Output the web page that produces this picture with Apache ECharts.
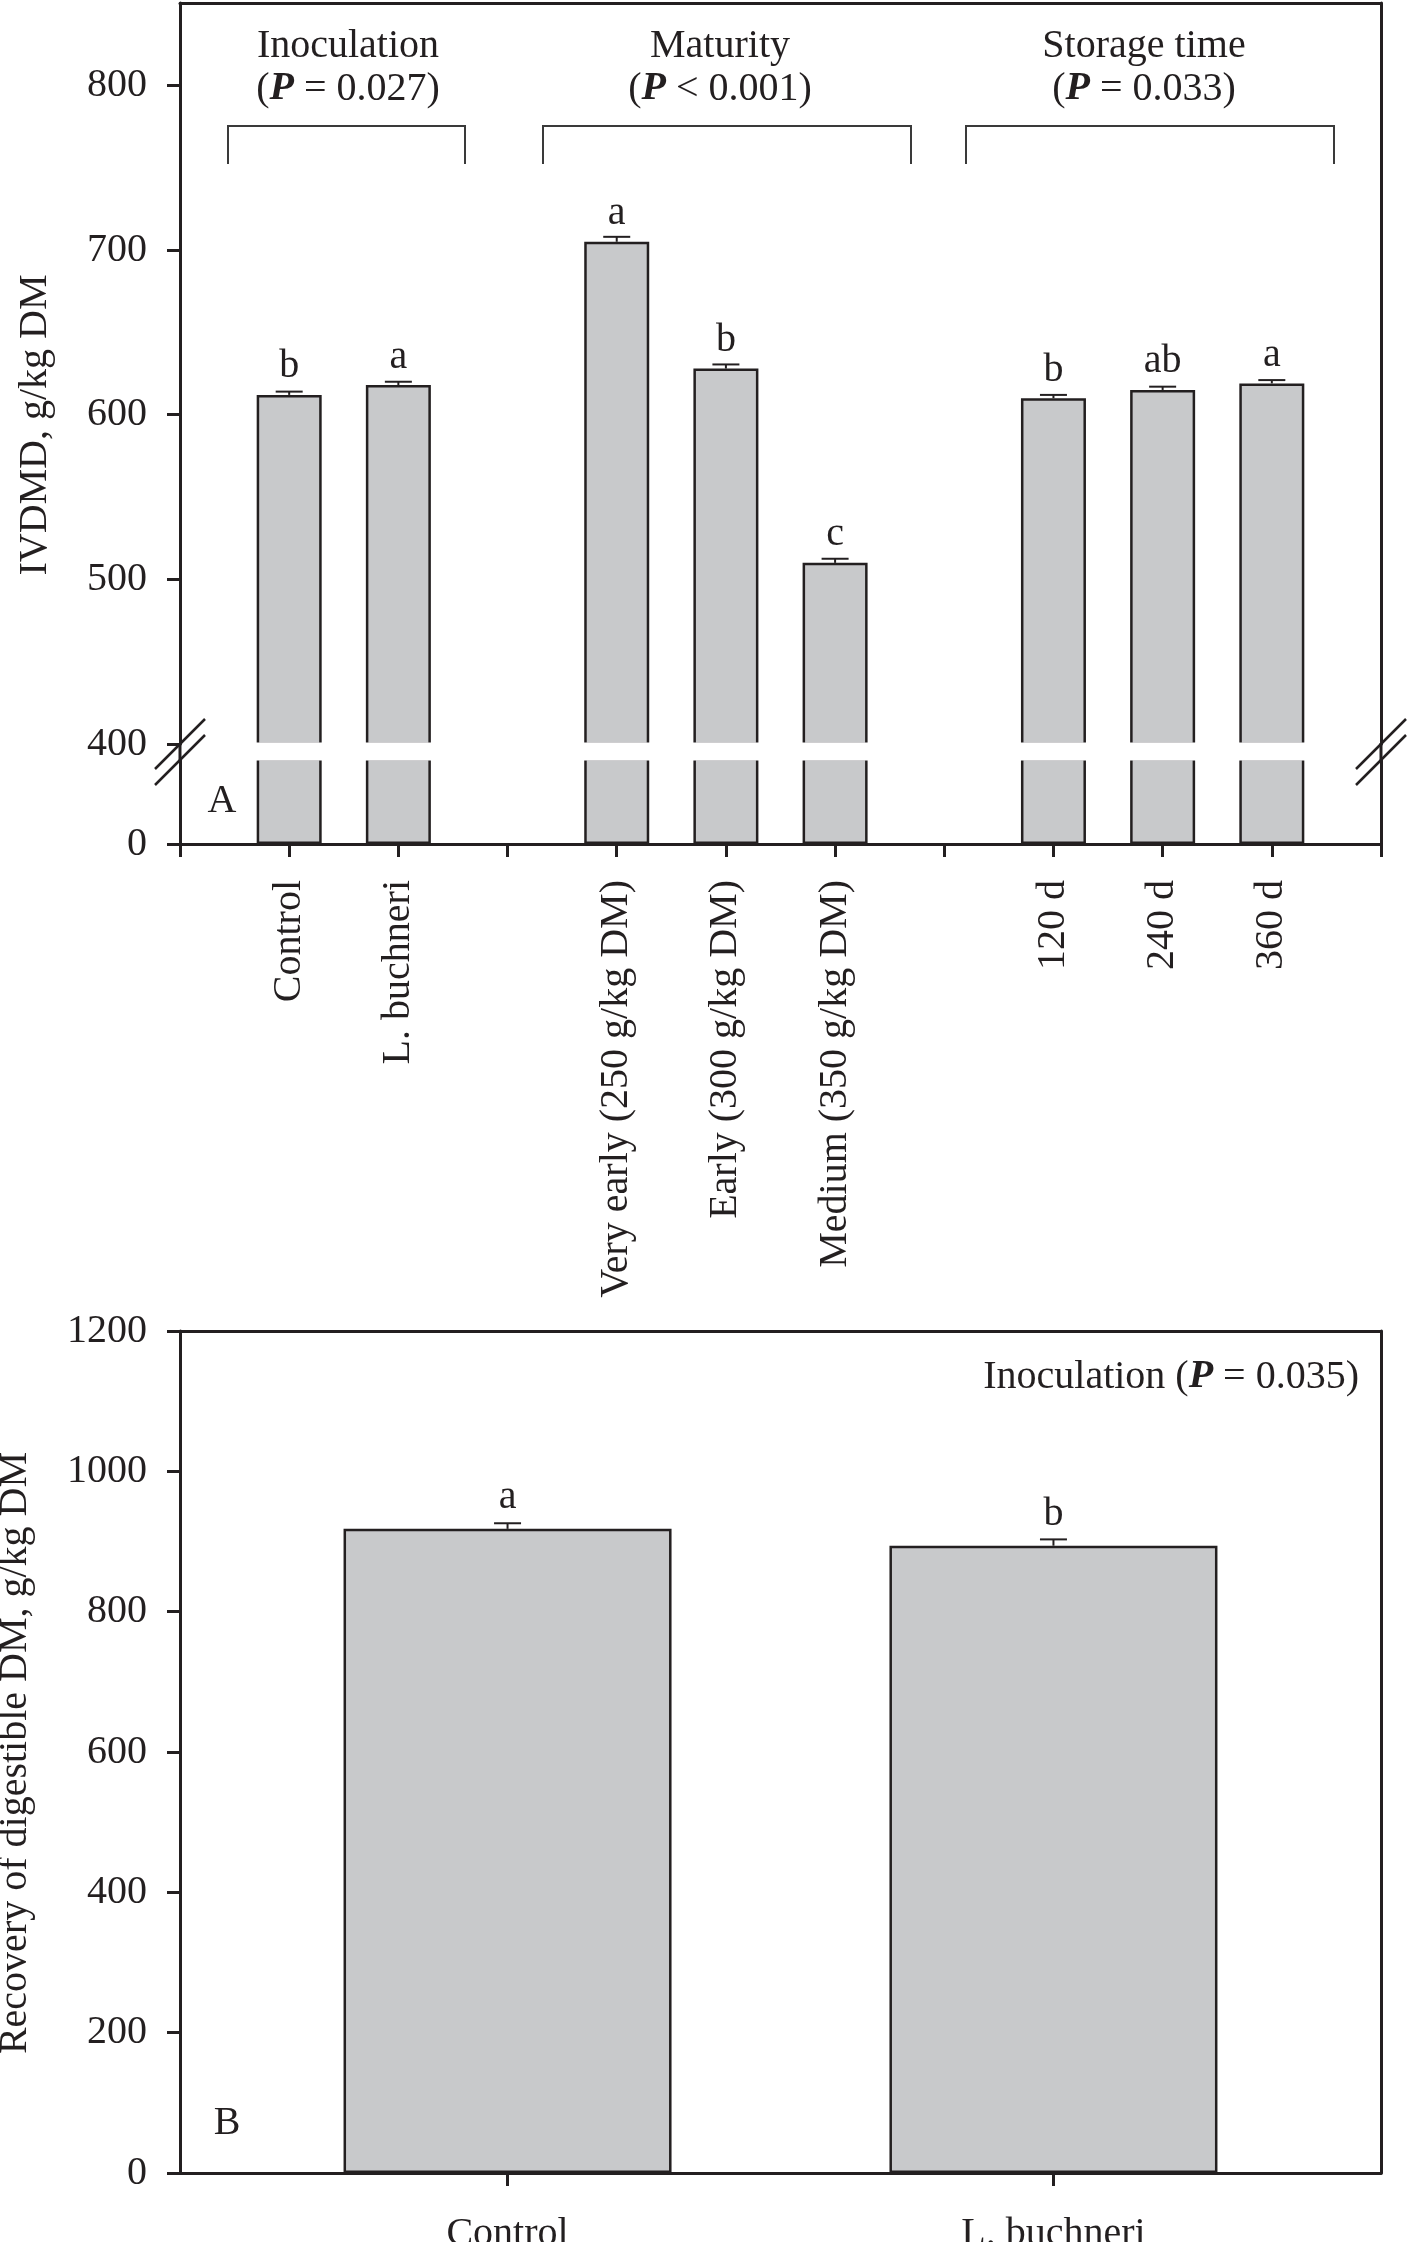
<!DOCTYPE html>
<html>
<head>
<meta charset="utf-8">
<title>IVDMD and recovery of digestible DM</title>
<script src="https://cdn.jsdelivr.net/npm/echarts@6/dist/echarts.min.js"></script>
<style>
  html, body { margin: 0; padding: 0; background: #fff; }
  #chart { width: 1408px; height: 2242px; }
</style>
</head>
<body>
<div id="chart"></div>
<script>
// Panel A: IVDMD, g/kg DM by factor
const inoculationCats = ['Control', 'L. buchneri'];
const maturityCats = ['Very early (250 g/kg DM)', 'Early (300 g/kg DM)', 'Medium (350 g/kg DM)'];
const storageCats = ['120 d', '240 d', '360 d'];
const ivdmdValues = [612, 618, 705, 628, 510, 610, 615, 619];
const ivdmdErrors = [2, 2, 3, 2.5, 2.5, 2, 2, 2];
const ivdmdLetters = ['b', 'a', 'a', 'b', 'c', 'b', 'ab', 'a'];
const ivdmdTicks = [400, 500, 600, 700, 800];

// Panel B: recovery of digestible DM
const recoveryCats = ['Control', 'L. buchneri'];
const recoveryValues = [918, 894];
const recoveryErrors = [8, 9];
const recoveryLetters = ['a', 'b'];
const recoveryTicks = [0, 200, 400, 600, 800, 1000, 1200];

const FONT = 'Liberation Serif';
const INK = '#231f20';
const BAR_FILL = '#c8c9cb';

// slots on the A axis: empty strings are the spacers between groups
const axisCats = ['', ...inoculationCats, '', ...maturityCats, '', ...storageCats, ''];
const barSlots = [];
axisCats.forEach((c, i) => { if (c) barSlots.push(i); });
const ivdmdBars = axisCats.map(() => '-');
barSlots.forEach((slot, k) => { ivdmdBars[slot] = ivdmdValues[k]; });
const ivdmdErrData = barSlots.map((slot, k) => [slot, ivdmdValues[k], ivdmdErrors[k]]);
const recoveryBars = recoveryValues.map((v, i) => [i, v]);
const recoveryErrData = recoveryValues.map((v, i) => [i, v, recoveryErrors[i]]);

// layout
const plotLeft = 180;
const plotWidth = 1201;
const plotRight = plotLeft + plotWidth;
const aTop = 3;
const aUpperH = 741;
const aGap = 15;
const aLowerH = 85;
const aBreakY = aTop + aUpperH;
const bTop = 1331;
const bH = 842;

const axisLine = { show: true, onZero: false, lineStyle: { color: INK, width: 3 } };
const tick = { show: true, length: 13, lineStyle: { color: INK, width: 3 } };
const label = { fontFamily: FONT, fontSize: 40, color: INK };
const txt = { fontFamily: FONT, fontSize: 40, fill: INK };
const pRich = { p: { fontFamily: FONT, fontSize: 40, fontWeight: 'bold', fontStyle: 'italic', fill: INK, color: INK } };

const borderAxis = (extra) => Object.assign({
  type: 'value', min: 0, max: 1,
  axisLine: axisLine, axisTick: { show: false }, axisLabel: { show: false }, splitLine: { show: false }
}, extra);

const errorRender = (params, api) => {
  const x = api.value(0);
  const v = api.value(1);
  const e = api.value(2);
  const p0 = api.coord([x, v]);
  const p1 = api.coord([x, v + e]);
  const hw = 13.5;
  const st = { stroke: INK, lineWidth: 2 };
  return {
    type: 'group',
    children: [
      { type: 'line', shape: { x1: p0[0], y1: p0[1], x2: p1[0], y2: p1[1] }, style: st },
      { type: 'line', shape: { x1: p1[0] - hw, y1: p1[1], x2: p1[0] + hw, y2: p1[1] }, style: st }
    ]
  };
};

const bracket = (x1, x2) => ({
  type: 'polyline', z: 100,
  shape: { points: [[x1, 164], [x1, 126], [x2, 126], [x2, 164]] },
  style: { stroke: '#3a3a3a', lineWidth: 2, fill: null }
});
const header = (x, title, p) => [
  { type: 'text', z: 100, x: x, y: 46, style: Object.assign({ text: title, align: 'center', verticalAlign: 'middle' }, txt) },
  { type: 'text', z: 100, x: x, y: 89, style: Object.assign({ text: '({p|P} ' + p + ')', align: 'center', verticalAlign: 'middle', rich: pRich }, txt) }
];
const breakMarks = (cx) => [
  { type: 'line', z: 101, shape: { x1: cx - 25, y1: aBreakY + 25, x2: cx + 25, y2: aBreakY - 25 }, style: { stroke: INK, lineWidth: 2.5 } },
  { type: 'line', z: 101, shape: { x1: cx - 25, y1: aBreakY + 41, x2: cx + 25, y2: aBreakY - 9 }, style: { stroke: INK, lineWidth: 2.5 } }
];

const chart = echarts.init(document.getElementById('chart'));

chart.setOption({
  animation: false,
  backgroundColor: '#fff',
  grid: [
    { left: plotLeft, top: aTop, width: plotWidth, height: aUpperH, outerBoundsMode: 'none' },
    { left: plotLeft, top: aBreakY + aGap, width: plotWidth, height: aLowerH, outerBoundsMode: 'none' },
    { left: plotLeft, top: bTop, width: plotWidth, height: bH, outerBoundsMode: 'none' }
  ],
  xAxis: [
    { gridIndex: 0, type: 'category', data: axisCats, boundaryGap: false, show: false },
    borderAxis({ gridIndex: 0, position: 'top' }),
    {
      gridIndex: 1, type: 'category', data: axisCats, boundaryGap: false,
      axisLine: axisLine,
      axisTick: Object.assign({ interval: 0 }, tick),
      axisLabel: Object.assign({ interval: 0, rotate: 90, margin: 36 }, label),
      splitLine: { show: false }
    },
    {
      gridIndex: 2, type: 'value', min: -0.6, max: 1.6,
      axisLine: axisLine,
      axisTick: Object.assign({ customValues: [0, 1] }, tick),
      axisLabel: Object.assign({ customValues: [0, 1], margin: 41, formatter: v => recoveryCats[Math.round(v)] }, label),
      splitLine: { show: false }
    },
    borderAxis({ gridIndex: 2, position: 'top' })
  ],
  yAxis: [
    {
      gridIndex: 0, type: 'value', min: 400, max: 850,
      axisLine: axisLine,
      axisTick: Object.assign({ customValues: ivdmdTicks }, tick),
      axisLabel: Object.assign({ customValues: ivdmdTicks, margin: 33 }, label),
      splitLine: { show: false }
    },
    borderAxis({ gridIndex: 0, position: 'right' }),
    {
      gridIndex: 1, type: 'value', min: 0, max: 100,
      axisLine: axisLine,
      axisTick: Object.assign({ customValues: [0] }, tick),
      axisLabel: Object.assign({ customValues: [0], margin: 33 }, label),
      splitLine: { show: false }
    },
    borderAxis({ gridIndex: 1, position: 'right' }),
    {
      gridIndex: 2, type: 'value', min: 0, max: 1200,
      axisLine: axisLine,
      axisTick: Object.assign({ customValues: recoveryTicks }, tick),
      axisLabel: Object.assign({ customValues: recoveryTicks, margin: 33, formatter: v => String(v) }, label),
      splitLine: { show: false }
    },
    borderAxis({ gridIndex: 2, position: 'right' })
  ],
  series: [
    {
      type: 'bar', xAxisIndex: 0, yAxisIndex: 0, data: ivdmdBars, barWidth: 65, clip: true,
      itemStyle: { color: BAR_FILL, borderColor: INK, borderWidth: 2.5 },
      label: Object.assign({
        show: true, position: 'top', distance: 8,
        formatter: p => ivdmdLetters[barSlots.indexOf(p.dataIndex)]
      }, label)
    },
    {
      type: 'bar', xAxisIndex: 2, yAxisIndex: 2, data: ivdmdBars, barWidth: 65, clip: true,
      itemStyle: { color: BAR_FILL, borderColor: INK, borderWidth: 2.5 }
    },
    {
      type: 'custom', xAxisIndex: 0, yAxisIndex: 0, data: ivdmdErrData, z: 3,
      renderItem: errorRender
    },
    {
      type: 'bar', xAxisIndex: 3, yAxisIndex: 4, data: recoveryBars, barWidth: 328,
      itemStyle: { color: BAR_FILL, borderColor: INK, borderWidth: 2.5 },
      label: Object.assign({
        show: true, position: 'top', distance: 11,
        formatter: p => recoveryLetters[p.dataIndex]
      }, label)
    },
    {
      type: 'custom', xAxisIndex: 3, yAxisIndex: 4, data: recoveryErrData, z: 3,
      renderItem: errorRender
    }
  ],
  graphic: [
    // axis break: white band through the bars, axis lines bridged, // marks
    { type: 'rect', z: 99, shape: { x: plotLeft + 2, y: aBreakY - 1.5, width: plotWidth - 4, height: aGap + 3 }, style: { fill: '#fff' } },
    { type: 'line', z: 100, shape: { x1: plotLeft, y1: aBreakY - 1, x2: plotLeft, y2: aBreakY + aGap + 1 }, style: { stroke: INK, lineWidth: 3 } },
    { type: 'line', z: 100, shape: { x1: plotRight, y1: aBreakY - 1, x2: plotRight, y2: aBreakY + aGap + 1 }, style: { stroke: INK, lineWidth: 3 } },
    ...breakMarks(plotLeft),
    ...breakMarks(plotRight),
    // group brackets and headers
    bracket(228, 465),
    bracket(543, 911),
    bracket(966, 1334),
    ...header(348, 'Inoculation', '= 0.027'),
    ...header(720, 'Maturity', '< 0.001'),
    ...header(1144, 'Storage time', '= 0.033'),
    { type: 'text', z: 100, x: 222, y: 801, style: Object.assign({ text: 'A', align: 'center', verticalAlign: 'middle' }, txt) },
    { type: 'text', z: 100, x: 35, y: 425, rotation: Math.PI / 2, style: Object.assign({ text: 'IVDMD, g/kg DM', align: 'center', verticalAlign: 'middle' }, txt) },
    // panel B annotations
    { type: 'text', z: 100, x: 1359, y: 1377, style: Object.assign({ text: 'Inoculation ({p|P} = 0.035)', align: 'right', verticalAlign: 'middle', rich: pRich }, txt) },
    { type: 'text', z: 100, x: 227, y: 2123, style: Object.assign({ text: 'B', align: 'center', verticalAlign: 'middle' }, txt) },
    { type: 'text', z: 100, x: 15, y: 1753, rotation: Math.PI / 2, style: Object.assign({ text: 'Recovery of digestible DM, g/kg DM', align: 'center', verticalAlign: 'middle' }, txt) }
  ]
});
</script>
</body>
</html>
